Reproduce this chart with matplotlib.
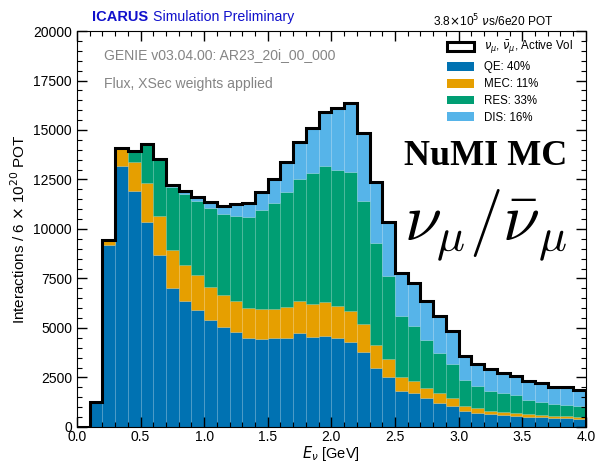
import numpy as np
import matplotlib
matplotlib.use("Agg")
import matplotlib.pyplot as plt
from matplotlib.patches import Patch
from matplotlib.ticker import MultipleLocator, FormatStrFormatter

plt.rcParams['font.family'] = ['Liberation Sans', 'DejaVu Sans']
plt.rcParams['mathtext.fontset'] = 'dejavusans'

# bin low edges (GeV), width 0.1
bin_low = [round(0.1 * i, 1) for i in range(40)]
bin_width = 0.1

qe = [0, 1250, 9190, 13200, 11920, 10370, 8690, 7040, 6370, 5930,
      5400, 5030, 4800, 4510, 4460, 4480, 4510, 4760, 4560, 4610,
      4510, 4310, 3770, 3000, 2510, 1835, 1735, 1450, 1230, 1080,
      810, 725, 655, 605, 555, 520, 490, 455, 440, 420]
mec = [0, 0, 200, 880, 1480, 1970, 1970, 1890, 1830, 1740,
       1690, 1640, 1570, 1520, 1480, 1500, 1530, 1620, 1650, 1690,
       1600, 1565, 1415, 1140, 905, 705, 605, 505, 470, 370,
       270, 220, 170, 170, 170, 135, 115, 115, 115, 100]
res = [0, 0, 30, 20, 560, 1950, 2860, 3170, 3550, 3740,
       3950, 4080, 4290, 4560, 5020, 5320, 5850, 6130, 6600, 6860,
       6890, 7020, 6230, 5135, 4210, 3065, 2780, 2410, 2055, 1735,
       1295, 1130, 1010, 960, 890, 710, 675, 590, 575, 555]
dis = [0, 0, 0, 0, 0, 0, 0, 110, 150, 220,
       320, 410, 590, 740, 890, 1230, 1510, 1900, 2270, 2740,
       3120, 3485, 3440, 3095, 2745, 2190, 2170, 1970, 1850, 1665,
       1210, 1090, 1110, 1010, 960, 975, 925, 875, 860, 790]

components = [("QE: 40%", qe, "#0072B2"),
              ("MEC: 11%", mec, "#E69F00"),
              ("RES: 33%", res, "#009E73"),
              ("DIS: 16%", dis, "#56B4E9")]

fig = plt.figure(figsize=(5.96, 4.63), dpi=100)
ax = fig.add_axes([0.129, 0.078, 0.854, 0.855])

x = np.array(bin_low)
bottom = np.zeros(len(x))
for label, vals, col in components:
    v = np.array(vals, dtype=float)
    ax.bar(x, v, width=bin_width, bottom=bottom, align='edge', color=col,
           edgecolor=(1, 1, 1, 0.07), linewidth=0.5)
    bottom += v

edges = np.append(x, x[-1] + bin_width)
ax.stairs(bottom, edges, color='black', linewidth=2.2, zorder=5)

ax.set_xlim(0, 4.0)
ax.set_ylim(0, 20000)
ax.xaxis.set_major_locator(MultipleLocator(0.5))
ax.xaxis.set_minor_locator(MultipleLocator(0.1))
ax.yaxis.set_major_locator(MultipleLocator(2500))
ax.yaxis.set_minor_locator(MultipleLocator(500))
ax.tick_params(which='both', direction='in', top=True, right=True, labelsize=10)
ax.tick_params(which='major', length=7, width=1)
ax.tick_params(which='minor', length=3.5, width=0.8)
ax.tick_params(axis='x', pad=2)
ax.xaxis.set_major_formatter(FormatStrFormatter('%.1f'))

ax.set_xlabel(r"$E_\nu$ [GeV]", fontsize=10.5, labelpad=0)
ax.set_ylabel(r"Interactions / 6 $\times$ 10$^{20}$ POT", fontsize=11)

handles = [Patch(facecolor='none', edgecolor='black', linewidth=2.2,
                 label=r"$\nu_\mu$, $\bar{\nu}_\mu$, Active Vol")]
for label, vals, col in components:
    handles.append(Patch(facecolor=col, edgecolor='none', label=label))
ax.legend(handles=handles, loc='upper right', frameon=False, fontsize=8.3,
          handlelength=2.4, handleheight=0.8, labelspacing=0.42,
          borderaxespad=0.3, bbox_to_anchor=(0.99, 1.0))

ax.text(0.053, 0.939, "GENIE v03.04.00: AR23_20i_00_000", transform=ax.transAxes,
        fontsize=10.1, color='#858585', va='center')
ax.text(0.053, 0.866, "Flux, XSec weights applied", transform=ax.transAxes,
        fontsize=10.1, color='#858585', va='center')

ax.text(0.699, 1.004, r"3.8$\times$10$^5$ $\nu$s/6e20 POT", transform=ax.transAxes,
        fontsize=8.6, va='bottom', ha='left')

fig.text(0.155, 0.963, "ICARUS", color='#1010cc', fontsize=10.5,
         fontweight='bold', va='center')
fig.text(0.257, 0.963, "Simulation Preliminary", color='#1010cc', fontsize=10.2,
         va='center')

ax.text(0.803, 0.683, "NuMI MC", transform=ax.transAxes, fontsize=26,
        fontweight='bold', family='Liberation Serif', ha='center', va='center')
ax.text(0.803, 0.51, r"$\nu_\mu/\bar{\nu}_\mu$", transform=ax.transAxes,
        fontsize=48, ha='center', va='center', math_fontfamily='cm')

fig.savefig("out.png", dpi=100)
